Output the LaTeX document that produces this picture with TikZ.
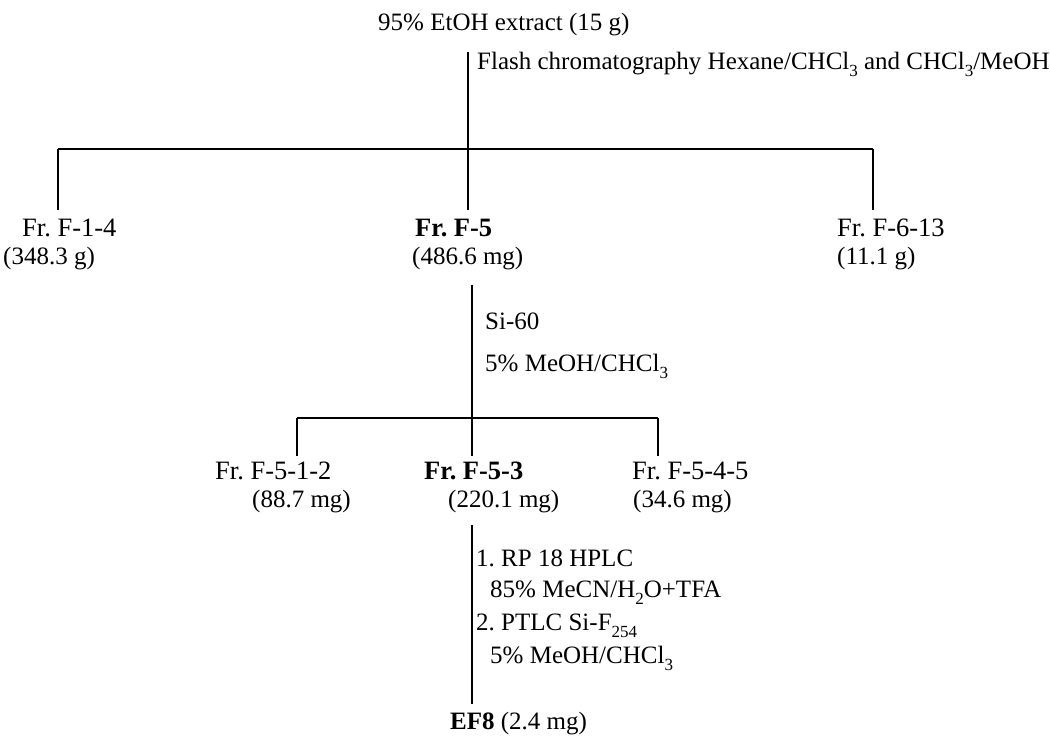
\documentclass[tikz,border=0pt]{standalone}
\usepackage{fontspec}
\setmainfont{Liberation Serif}
% lowered chemical subscript, as set in the scheme
\newcommand\lowsub[1]{\raisebox{-0.28em}{\fontsize{17}{17}\selectfont #1}}
\begin{document}
\frenchspacing
\begin{tikzpicture}[x=1pt,y=-1pt,
  lbl/.style={inner sep=0pt,anchor=base west,font=\fontsize{25}{30}\selectfont},
  frac/.style={lbl,font=\fontsize{26.5}{30}\selectfont},
  fracbold/.style={lbl,font=\fontsize{26.5}{30}\selectfont\bfseries},
  stem/.style={line width=2pt},
  bar/.style={line width=2.6pt},
  drop/.style={line width=2pt}]
\useasboundingbox (0,0) rectangle (1050,743);

% --- crude extract and first separation
\node[lbl] (top) at (378,31) {95\% EtOH extract (15 g)};
\node[lbl] (flash) at (477,70) {Flash chromatography Hexane/CHCl\lowsub{3} and CHCl\lowsub{3}/MeOH};
\coordinate (s1a) at (468,52);
\coordinate (s1b) at (468,149);
\coordinate (b1l) at (58,149);
\coordinate (b1r) at (873,149);
\coordinate (d1l) at (58,210);
\coordinate (d1m) at (468,210);
\coordinate (d1r) at (873,210);
\draw[stem] (s1a) -- (s1b);
\draw[bar] (b1l) -- (b1r);
\draw[drop] (b1l) -- (d1l);
\draw[drop] (s1b) -- (d1m);
\draw[drop] (b1r) -- (d1r);

% --- first-level fractions
\node[frac] (f14) at (22,237) {Fr. F-1-4};
\node[lbl] (f14w) at (3,265) {(348.3 g)};
\node[fracbold] (f5) at (415,237) {Fr. F-5};
\node[lbl] (f5w) at (412,265) {(486.6 mg)};
\node[frac] (f613) at (837,237) {Fr. F-6-13};
\node[lbl] (f613w) at (837,265) {(11.1 g)};

% --- silica column of Fr. F-5
\coordinate (s2a) at (472,285);
\coordinate (s2b) at (472,418);
\node[lbl] (si) at (485,330) {Si-60};
\node[lbl] (si2) at (485,372) {5\% MeOH/CHCl\lowsub{3}};
\coordinate (b2l) at (297,418);
\coordinate (b2r) at (658,418);
\coordinate (d2l) at (297,456);
\coordinate (d2m) at (472,456);
\coordinate (d2r) at (658,456);
\draw[stem] (s2a) -- (s2b);
\draw[bar] (b2l) -- (b2r);
\draw[drop] (b2l) -- (d2l);
\draw[drop] (s2b) -- (d2m);
\draw[drop] (b2r) -- (d2r);

% --- second-level fractions
\node[frac] (f512) at (215,479) {Fr. F-5-1-2};
\node[lbl] (f512w) at (252,507) {(88.7 mg)};
\node[fracbold] (f53) at (424,479) {Fr. F-5-3};
\node[lbl] (f53w) at (448,507) {(220.1 mg)};
\node[frac] (f545) at (632,479) {Fr. F-5-4-5};
\node[lbl] (f545w) at (633,507) {(34.6 mg)};

% --- purification of Fr. F-5-3
\coordinate (s3a) at (472,525);
\coordinate (s3b) at (472,704);
\draw[stem] (s3a) -- (s3b);
\node[lbl] (p1) at (476,566) {1. RP 18 HPLC};
\node[lbl] (p1b) at (490,597) {85\% MeCN/H\lowsub{2}O+TFA};
\node[lbl] (p2) at (476,630) {2. PTLC Si-F\lowsub{254}};
\node[lbl] (p2b) at (490,663) {5\% MeOH/CHCl\lowsub{3}};

\node[lbl] (ef8) at (450,729) {\textbf{EF8} (2.4 mg)};
\end{tikzpicture}
\end{document}
